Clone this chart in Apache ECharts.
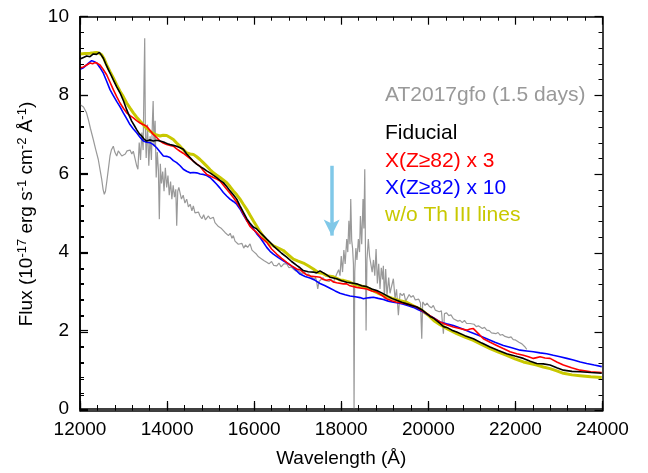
<!DOCTYPE html>
<html>
<head>
<meta charset="utf-8">
<script src="https://cdn.jsdelivr.net/npm/echarts@6/dist/echarts.min.js"></script>
<style>
  html, body { margin: 0; padding: 0; background: #fff; }
  .layer { position: absolute; left: 0; top: 0; width: 648px; height: 473px; }
</style>
</head>
<body>
<div id="chart" class="layer"></div>
<div id="frame" class="layer"></div>
<script>
// Observed spectrum of AT2017gfo at 1.5 days (wavelength in Å, flux in 1e-17 erg/s/cm2/Å)
const obsWl = [12000,12040,12080,12115,12150,12191,12240,12305,12360,12420,12460,12498,12530,12558,12585,12613,12650,12689,12720,12765,12800,12843,12880,12919,12960,12995,13040,13080,13109,13150,13190,13224,13260,13302,13330,13360,13390,13420,13450,13470,13486,13500,13520,13550,13580,13610,13640,13665,13680,13700,13725,13750,13775,13800,13822,13845,13870,13900,13930,13960,13990,14020,14050,14080,14110,14140,14170,14200,14221,14245,14270,14297,14330,14370,14410,14450,14490,14530,14570,14603,14640,14680,14720,14756,14800,14840,14880,14910,14950,14990,15030,15062,15100,15140,15180,15214,15250,15290,15330,15370,15410,15450,15490,15521,15560,15600,15636,15675,15720,15760,15800,15850,15905,15950,16000,16050,16100,16135,16180,16230,16288,16340,16400,16450,16518,16570,16620,16680,16748,16800,16850,16900,16950,17000,17054,17100,17150,17200,17250,17283,17330,17380,17410,17437,17460,17490,17530,17580,17630,17667,17720,17770,17819,17860,17900,17940,17972,18000,18030,18060,18090,18126,18150,18175,18200,18218,18240,18260,18280,18294,18310,18335,18360,18393,18420,18440,18470,18500,18520,18540,18556,18570,18590,18622,18650,18680,18710,18740,18770,18800,18830,18860,18890,18920,18950,18967,18990,19020,19050,19090,19120,19150,19197,19236,19270,19312,19350,19400,19440,19480,19520,19560,19600,19656,19700,19734,19780,19820,19849,19870,19925,19970,20020,20070,20115,20160,20200,20250,20300,20346,20370,20420,20470,20520,20575,20620,20680,20728,20780,20830,20880,20958,21000,21050,21100,21150,21188,21240,21290,21342,21400,21450,21494,21550,21600,21650,21700,21760,21800,21850,21900,21950,22000,22030,22080,22120,22150,22183,22222,22260];
const obsFlux = [7.76,7.80,7.70,7.72,7.55,7.38,7.15,6.87,6.62,6.36,6.10,5.86,5.60,5.47,5.55,5.78,6.10,6.45,6.60,6.70,6.55,6.45,6.58,6.54,6.45,6.41,6.50,6.58,6.54,6.60,6.50,6.57,6.40,6.20,6.11,6.79,6.35,7.05,6.60,8.30,9.45,7.20,6.40,7.25,6.20,6.95,6.35,7.40,7.85,6.70,7.35,5.90,6.55,6.10,4.84,6.25,5.75,6.05,5.55,6.15,5.65,5.95,5.45,5.80,5.35,5.70,5.40,5.60,4.67,5.55,5.65,5.60,5.35,5.45,5.25,5.35,5.15,5.22,5.05,5.18,5.00,4.95,5.02,4.92,4.85,4.95,4.82,4.84,4.92,4.85,4.88,4.89,4.75,4.80,4.65,4.67,4.60,4.62,4.50,4.54,4.42,4.48,4.35,4.42,4.28,4.30,4.20,4.16,4.22,4.10,4.18,4.12,4.21,4.05,4.00,3.95,3.88,3.91,3.82,3.78,3.74,3.70,3.76,3.66,3.65,3.72,3.62,3.70,3.70,3.60,3.62,3.57,3.52,3.55,3.49,3.45,3.50,3.42,3.44,3.40,3.35,3.30,3.36,3.23,3.06,3.25,3.28,3.35,3.28,3.32,3.25,3.30,3.23,3.35,3.30,3.55,3.40,3.90,3.49,4.05,3.70,4.33,4.00,4.80,4.20,5.35,4.30,4.10,3.70,0.02,3.49,4.10,3.80,4.33,4.00,4.92,4.20,5.35,4.60,6.11,4.10,2.00,3.80,4.33,3.90,3.91,3.49,3.80,3.40,4.08,3.20,3.70,3.06,3.60,3.30,3.65,2.81,3.57,2.89,3.35,2.95,3.10,3.32,2.81,3.05,2.39,2.95,2.89,2.95,2.75,2.80,2.92,2.85,2.89,2.78,2.73,2.80,2.70,1.79,2.73,2.64,2.70,2.62,2.58,2.64,2.52,2.55,2.48,2.50,1.92,2.43,2.45,2.38,2.40,2.30,2.33,2.24,2.26,2.20,2.26,2.18,2.18,2.14,2.16,2.10,2.12,2.09,2.05,2.08,2.01,2.00,1.94,1.96,1.92,1.95,1.88,1.90,1.85,1.88,1.82,1.84,1.77,1.76,1.75,1.70,1.72,1.66,1.67,1.58,1.52];

// Fiducial model
const fidWl = [12000,12080,12153,12230,12306,12380,12444,12490,12536,12590,12651,12710,12765,12840,12919,13000,13072,13130,13187,13250,13301,13360,13416,13470,13531,13600,13684,13760,13837,13900,13952,14010,14067,14144,14220,14300,14373,14450,14527,14600,14680,14760,14833,14910,14986,15060,15139,15216,15292,15369,15445,15522,15599,15675,15750,15830,15900,15981,16058,16135,16211,16290,16364,16440,16517,16630,16747,16860,16977,17053,17130,17240,17359,17430,17512,17589,17666,17742,17819,17895,18010,18125,18240,18355,18470,18584,18700,18814,18930,19044,19160,19274,19390,19503,19620,19733,19850,19963,20040,20116,20190,20269,20350,20422,20540,20652,20840,21035,21230,21418,21610,21800,21990,22183,22340,22490,22640,22796,22950,23102,23300,23485,23730,23983];
const fidFlux = [8.92,8.96,9.00,8.98,9.05,9.04,9.09,9.02,8.94,8.80,8.65,8.52,8.39,8.22,8.06,7.85,7.63,7.48,7.34,7.22,7.12,7.02,6.96,6.88,6.83,6.86,6.83,6.85,6.83,6.81,6.79,6.76,6.74,6.72,6.70,6.66,6.62,6.50,6.41,6.32,6.24,6.18,6.13,6.07,6.02,5.96,5.90,5.83,5.77,5.67,5.56,5.46,5.35,5.18,5.02,4.85,4.74,4.64,4.59,4.50,4.42,4.33,4.25,4.16,4.08,3.97,3.87,3.76,3.66,3.60,3.53,3.50,3.49,3.47,3.52,3.47,3.42,3.36,3.34,3.32,3.27,3.23,3.21,3.19,3.14,3.12,3.06,3.02,2.96,2.89,2.82,2.77,2.72,2.68,2.64,2.60,2.53,2.43,2.36,2.32,2.25,2.18,2.10,2.08,2.01,1.96,1.87,1.79,1.68,1.58,1.49,1.41,1.35,1.29,1.22,1.16,1.15,1.12,1.05,0.99,0.96,0.95,0.93,0.91];

// Heavy-element fraction X(Z>=82) enhanced by 3
const x3Wl = [12000,12080,12153,12230,12290,12344,12400,12459,12530,12612,12690,12765,12840,12919,13000,13072,13150,13225,13300,13378,13450,13531,13610,13684,13760,13837,13910,13990,14070,14144,14220,14297,14370,14450,14530,14603,14680,14756,14830,14910,14990,15063,15140,15216,15290,15369,15445,15522,15600,15675,15750,15830,15900,15981,16058,16170,16288,16400,16517,16630,16747,16860,16977,17053,17130,17206,17320,17436,17512,17589,17666,17742,17819,17895,18048,18125,18201,18355,18470,18584,18700,18814,18930,19044,19160,19274,19390,19503,19620,19733,19850,19963,20116,20269,20420,20575,20720,20880,20960,21035,21150,21264,21420,21571,21720,21877,22030,22183,22300,22413,22490,22566,22680,22796,22950,23102,23290,23485,23730,23983];
const x3Flux = [8.69,8.72,8.77,8.82,8.80,8.83,8.81,8.77,8.66,8.52,8.33,8.14,7.97,7.80,7.66,7.55,7.48,7.42,7.35,7.29,7.25,7.21,7.10,7.00,6.92,6.83,6.78,6.74,6.72,6.70,6.63,6.57,6.52,6.45,6.38,6.32,6.25,6.19,6.08,5.98,5.94,5.90,5.86,5.81,5.71,5.60,5.50,5.39,5.27,5.14,4.98,4.80,4.66,4.57,4.50,4.36,4.25,4.08,3.95,3.84,3.74,3.65,3.57,3.55,3.48,3.42,3.38,3.37,3.36,3.30,3.28,3.30,3.24,3.22,3.19,3.19,3.14,3.10,3.08,3.06,3.01,2.98,2.90,2.81,2.76,2.72,2.70,2.68,2.64,2.60,2.51,2.43,2.32,2.22,2.15,2.09,2.05,2.01,2.04,2.05,1.92,1.79,1.70,1.62,1.54,1.46,1.41,1.37,1.33,1.29,1.31,1.33,1.30,1.29,1.20,1.12,1.05,0.99,0.95,0.93];

// Heavy-element fraction X(Z>=82) enhanced by 10
const x10Wl = [12000,12080,12153,12210,12268,12330,12383,12460,12536,12610,12689,12765,12842,12920,12995,13072,13148,13225,13301,13378,13455,13530,13608,13685,13761,13840,13914,13990,14067,14144,14220,14300,14373,14450,14527,14600,14680,14760,14833,14910,14986,15060,15139,15216,15292,15369,15445,15522,15599,15675,15750,15830,15905,15981,16058,16134,16210,16288,16365,16441,16555,16670,16785,16900,16977,17053,17170,17283,17400,17512,17630,17742,17860,17972,18090,18202,18320,18431,18510,18584,18660,18737,18850,18967,19080,19197,19310,19427,19540,19656,19770,19886,20000,20116,20269,20420,20575,20760,20958,21150,21341,21530,21724,21915,22107,22260,22413,22566,22719,22870,23025,23180,23332,23490,23638,23810,23983];
const x10Flux = [8.66,8.70,8.77,8.83,8.88,8.85,8.82,8.70,8.56,8.36,8.14,7.99,7.84,7.70,7.55,7.40,7.25,7.14,7.04,6.93,6.83,6.80,6.79,6.74,6.66,6.55,6.45,6.44,6.41,6.33,6.28,6.20,6.11,6.06,6.02,6.03,6.02,5.99,5.98,5.95,5.90,5.82,5.73,5.63,5.52,5.43,5.35,5.29,5.22,5.10,4.95,4.80,4.70,4.59,4.47,4.37,4.25,4.12,4.02,3.95,3.86,3.78,3.70,3.61,3.52,3.44,3.38,3.34,3.28,3.20,3.14,3.08,3.01,2.95,2.91,2.88,2.86,2.84,2.81,2.83,2.84,2.85,2.82,2.79,2.75,2.72,2.70,2.67,2.63,2.59,2.53,2.47,2.40,2.33,2.22,2.17,2.13,2.05,1.96,1.88,1.79,1.70,1.62,1.56,1.50,1.48,1.46,1.43,1.41,1.37,1.33,1.29,1.25,1.20,1.16,1.12,1.08];

// Model without Th III lines
const noThWl = [12000,12115,12230,12310,12383,12440,12497,12555,12612,12690,12765,12840,12919,13000,13072,13150,13225,13300,13378,13490,13608,13720,13837,13910,13990,14070,14144,14220,14297,14370,14450,14530,14603,14680,14756,14830,14910,14990,15063,15140,15216,15290,15369,15445,15522,15600,15675,15750,15828,15900,15980,16058,16135,16211,16290,16364,16441,16555,16670,16785,16900,17010,17130,17240,17359,17470,17589,17666,17819,17972,18048,18201,18278,18430,18584,18737,18890,19044,19197,19350,19503,19656,19809,19999,20130,20269,20460,20652,20840,21035,21230,21418,21610,21800,21990,22183,22340,22490,22640,22796,22950,23102,23300,23485,23730,23983];
const noThFlux = [9.05,9.06,9.07,9.08,9.09,9.07,9.03,8.92,8.77,8.60,8.44,8.27,8.10,7.95,7.80,7.67,7.55,7.44,7.34,7.20,7.08,7.00,6.96,6.98,6.97,6.92,6.87,6.78,6.70,6.61,6.53,6.50,6.49,6.43,6.36,6.28,6.19,6.10,6.02,5.96,5.90,5.84,5.77,5.67,5.56,5.46,5.35,5.22,5.09,4.95,4.80,4.66,4.52,4.40,4.29,4.22,4.16,4.10,4.04,3.93,3.82,3.77,3.72,3.65,3.57,3.48,3.45,3.40,3.37,3.29,3.28,3.23,3.19,3.14,3.10,3.01,2.93,2.87,2.81,2.76,2.72,2.63,2.55,2.39,2.25,2.15,2.03,1.92,1.83,1.75,1.64,1.54,1.45,1.37,1.28,1.20,1.16,1.12,1.07,1.03,0.97,0.91,0.87,0.85,0.82,0.80];

// Marker arrow pointing at the 1.8 micron feature
const arrowWl = 17780;
const arrowTop = 6.2;
const arrowTip = 4.42;

// Legend entries
const legendLabels = ['AT2017gfo (1.5 days)', 'Fiducial', 'X(Z\u226582) x 3', 'X(Z\u226582) x 10', 'w/o Th III lines'];

const FONT = '"Liberation Sans", Arial, Helvetica, sans-serif';
const pairs = (xs, ys) => xs.map((x, i) => [x, ys[i]]);

const GRID = { left: 80, right: 45.5, top: 16.7, bottom: 62.3 };
const X_RANGE = { type: 'value', min: 12000, max: 24000, interval: 2000 };
const Y_RANGE = { type: 'value', min: 0, max: 10, interval: 2 };

const axisStyle = () => ({
  axisLine: { show: true, onZero: false, lineStyle: { color: '#000', width: 1.5 } },
  axisTick: { show: true, inside: true, length: 8, lineStyle: { color: '#000', width: 1.2 } },
  minorTick: { show: true, splitNumber: 5, length: 4, lineStyle: { color: '#000', width: 1 } },
  splitLine: { show: false }
});

const lineSeries = (name, data, color, width, z) => ({
  name, type: 'line', data, showSymbol: false,
  lineStyle: { color, width }, itemStyle: { color },
  z, silent: true
});

// Main layer: spectra, arrow, tick labels, titles and legend text
const chart = echarts.init(document.getElementById('chart'), null, { renderer: 'canvas' });
chart.setOption({
  animation: false,
  grid: Object.assign({}, GRID),
  xAxis: Object.assign({}, X_RANGE, {
    position: 'bottom',
    name: 'Wavelength (\u00c5)', nameLocation: 'middle', nameGap: 40,
    nameTextStyle: { fontFamily: FONT, fontSize: 19, color: '#000' },
    axisLabel: { fontFamily: FONT, fontSize: 19, color: '#000', margin: 11, formatter: v => String(v) }
  }, axisStyle()),
  yAxis: Object.assign({}, Y_RANGE, {
    position: 'left',
    axisLabel: { fontFamily: FONT, fontSize: 19, color: '#000', margin: 11, formatter: v => String(v) }
  }, axisStyle()),
  series: [
    lineSeries('AT2017gfo', pairs(obsWl, obsFlux), '#999999', 1.2, 2),
    lineSeries('w/o Th III lines', pairs(noThWl, noThFlux), '#c8c800', 3, 3),
    lineSeries('X(Z>=82) x 10', pairs(x10Wl, x10Flux), '#0000ff', 1.6, 4),
    lineSeries('X(Z>=82) x 3', pairs(x3Wl, x3Flux), '#ff0000', 1.6, 5),
    lineSeries('Fiducial', pairs(fidWl, fidFlux), '#000000', 1.6, 6),
    {
      name: 'arrow', type: 'line', data: [], z: 7, silent: true,
      markLine: {
        silent: true, animation: false,
        symbol: ['none', 'arrow'], symbolSize: [12, 16],
        label: { show: false },
        lineStyle: { color: '#80c8e8', width: 3.5, type: 'solid' },
        data: [[{ coord: [arrowWl, arrowTop] }, { coord: [arrowWl, arrowTip] }]]
      }
    }
  ],
  graphic: [
    {
      type: 'text', x: 27, y: 214, rotation: Math.PI / 2,
      style: {
        text: '{m|Flux (10}{s|-17}{m| erg s}{s|-1}{m| cm}{s|-2}{m| \u00c5}{s|-1}{m|)}',
        align: 'center', verticalAlign: 'middle',
        rich: {
          m: { fontFamily: FONT, fontSize: 19, fill: '#000', lineHeight: 24 },
          s: { fontFamily: FONT, fontSize: 13, fill: '#000', padding: [0, 0, 10, 0], lineHeight: 24 }
        }
      }
    },
    { type: 'text', left: 385, top: 85, style: { text: legendLabels[0], fontFamily: FONT, fontSize: 21, fill: '#999999' } },
    { type: 'text', left: 385, top: 123, style: { text: legendLabels[1], fontFamily: FONT, fontSize: 21, fill: '#000000' } },
    { type: 'text', left: 385, top: 151, style: { text: legendLabels[2], fontFamily: FONT, fontSize: 21, fill: '#ff0000' } },
    { type: 'text', left: 385, top: 178, style: { text: legendLabels[3], fontFamily: FONT, fontSize: 21, fill: '#0000ff' } },
    { type: 'text', left: 385, top: 205, style: { text: legendLabels[4], fontFamily: FONT, fontSize: 21, fill: '#c8c800' } }
  ]
});

// Overlay layer: closed frame with inward major/minor ticks on all four sides
const frame = echarts.init(document.getElementById('frame'), null, { renderer: 'canvas' });
frame.setOption({
  animation: false,
  grid: Object.assign({}, GRID),
  xAxis: [
    Object.assign({}, X_RANGE, { position: 'bottom', axisLabel: { show: false } }, axisStyle()),
    Object.assign({}, X_RANGE, { position: 'top', axisLabel: { show: false } }, axisStyle())
  ],
  yAxis: [
    Object.assign({}, Y_RANGE, { position: 'left', axisLabel: { show: false } }, axisStyle()),
    Object.assign({}, Y_RANGE, { position: 'right', axisLabel: { show: false } }, axisStyle())
  ],
  series: []
});
</script>
</body>
</html>
